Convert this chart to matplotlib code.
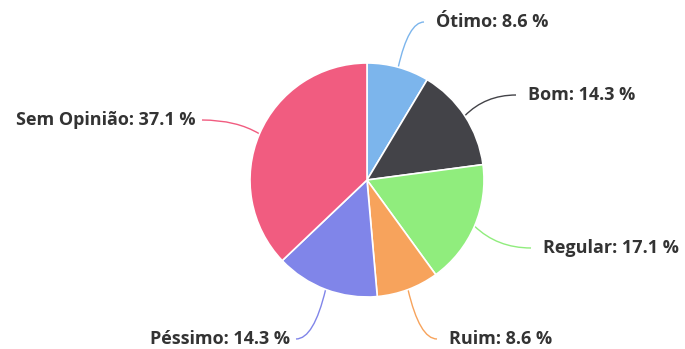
import matplotlib.pyplot as plt
import numpy as np
from matplotlib.path import Path
from matplotlib.patches import PathPatch

categories = ["Ótimo", "Bom", "Regular", "Ruim", "Péssimo", "Sem Opinião"]
percents = [8.6, 14.3, 17.1, 8.6, 14.3, 37.1]
colors = ["#7cb5ec", "#434348", "#90ed7d", "#f7a35c", "#8085e9", "#f15c80"]

# label anchor (pixel coords, y down) and horizontal alignment
_LABEL_POS = [(436, 22, "left"), (528, 95, "left"), (543, 248, "left"),
              (449, 339, "left"), (290, 339, "right"), (196, 120, "right")]

W, H = 685, 349
CX, CY, R = 367, 180, 117

fig = plt.figure(figsize=(W / 100, H / 100), dpi=100)
ax = fig.add_axes([0, 0, 1, 1])

ax.pie(percents, colors=colors, startangle=90, counterclock=False,
       center=(CX, H - CY), radius=R, frame=True,
       wedgeprops=dict(edgecolor="white", linewidth=1.2))
ax.set_xlim(0, W)
ax.set_ylim(0, H)
ax.set_aspect("equal")
ax.axis("off")

cum = np.cumsum([0] + percents)
for i, (name, pct) in enumerate(zip(categories, percents)):
    mid = (cum[i] + pct / 2) / 100 * 2 * np.pi
    ex = CX + R * np.sin(mid)
    ey = CY - R * np.cos(mid)
    lx, ly, ha = _LABEL_POS[i]
    sx = lx - 12 if ha == "left" else lx + 6
    cx = sx + (ex - sx) * 0.6
    path = Path([(sx, H - ly), (cx, H - ly), (ex, H - ey)],
                [Path.MOVETO, Path.CURVE3, Path.CURVE3])
    ax.add_patch(PathPatch(path, facecolor="none", edgecolor=colors[i],
                           linewidth=1.0, zorder=0))
    ax.text(lx, H - ly, f"{name}: {pct} %", ha=ha, va="center",
            fontsize=13, fontweight="bold", family="Open Sans", color="#333333")

fig.savefig("out.png", dpi=100, facecolor="white")
